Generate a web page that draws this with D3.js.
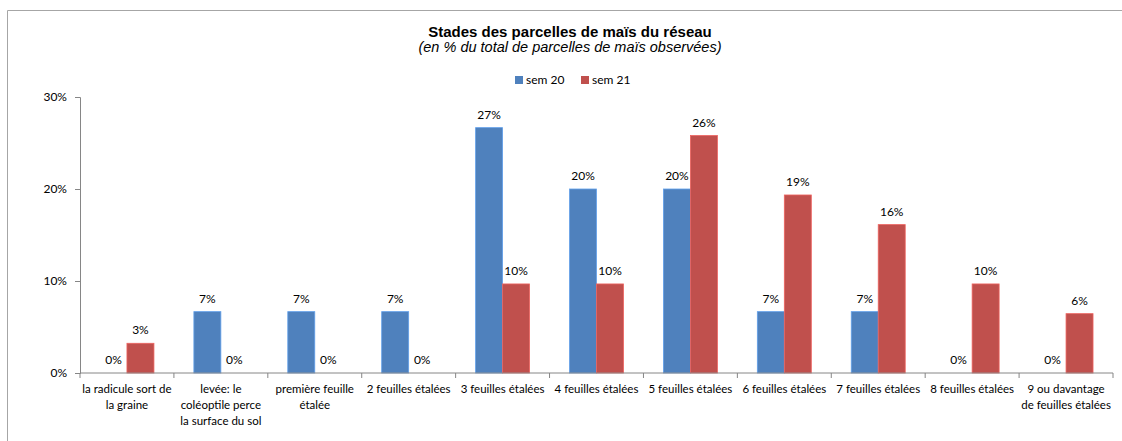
<!DOCTYPE html>
<html>
<head>
<meta charset="utf-8">
<script src="https://cdn.jsdelivr.net/npm/d3@7"></script>
<style>
  body { margin: 0; background: #fff; }
  svg text { font-family: Lato, "Open Sans", sans-serif; fill: #000; }
</style>
</head>
<body>
<div id="chart"></div>
<script>
// Données
const categories = [
  "la radicule sort de|la graine",
  "levée: le|coléoptile perce|la surface du sol",
  "première feuille|étalée",
  "2 feuilles étalées",
  "3 feuilles étalées",
  "4 feuilles étalées",
  "5 feuilles étalées",
  "6 feuilles étalées",
  "7 feuilles étalées",
  "8 feuilles étalées",
  "9 ou davantage|de feuilles étalées"
];
const seriesNames = ["sem 20", "sem 21"];
const sem20 = [0, 6.67, 6.67, 6.67, 26.67, 20, 20, 6.67, 6.67, 0, 0];
const sem21 = [3.23, 0, 0, 0, 9.68, 9.68, 25.81, 19.35, 16.13, 9.68, 6.45];
const yTicks = [0, 10, 20, 30];
const colors = ["#4F81BD", "#C0504D"];

const W = 1122, H = 441;
const margin = { top: 97, right: 9, bottom: 68, left: 80 };
const width = 1113 - margin.left, height = 373 - margin.top;

const svg = d3.select("#chart").append("svg")
  .attr("width", W).attr("height", H);

// cadre (haut et gauche visibles)
svg.append("path")
  .attr("d", "M7.5,441 V10.5 H1122")
  .attr("fill", "none").attr("stroke", "#a6a6a6");

svg.append("text")
  .attr("x", 570).attr("y", 37)
  .attr("text-anchor", "middle")
  .style("font-family", "'Liberation Sans', Arial, sans-serif")
  .style("font-weight", "bold").style("font-size", "15px")
  .text("Stades des parcelles de maïs du réseau");

svg.append("text")
  .attr("x", 570).attr("y", 52)
  .attr("text-anchor", "middle")
  .style("font-family", "'Liberation Sans', Arial, sans-serif")
  .style("font-style", "italic").style("font-size", "14.5px")
  .text("(en % du total de parcelles de maïs observées)");

// légende
const legend = svg.append("g").attr("transform", "translate(515,75)");
seriesNames.forEach((s, i) => {
  const lg = legend.append("g").attr("transform", `translate(${i * 66},0)`);
  lg.append("rect").attr("width", 8).attr("height", 8).attr("y", 1).attr("fill", colors[i]);
  lg.append("text").attr("x", 11).attr("y", 8.5).style("font-size", "12px").text(s);
});

const g = svg.append("g").attr("transform", `translate(${margin.left},${margin.top})`);

const x0 = d3.scaleBand().domain(d3.range(categories.length)).range([0, width]).padding(0);
const x1 = d3.scaleBand().domain([0, 1]).range([0, x0.bandwidth()]).paddingOuter(0.74).paddingInner(0);
const y = d3.scaleLinear().domain([0, 30]).range([height, 0]);

const data = categories.map((c, i) => [sem20[i], sem21[i]]);

const groups = g.selectAll(".grp").data(data).enter().append("g")
  .attr("transform", (d, i) => `translate(${x0(i)},0)`);

groups.selectAll("rect").data(d => d).enter().append("rect")
  .attr("x", (d, j) => x1(j))
  .attr("y", d => y(d))
  .attr("width", x1.bandwidth())
  .attr("height", d => height - y(d))
  .attr("fill", (d, j) => colors[j])
  .attr("stroke", (d, j) => d3.color(colors[j]).brighter(0.6))
  .attr("stroke-width", d => d > 0 ? 0.8 : 0);

groups.selectAll(".lbl").data(d => d).enter().append("text")
  .attr("x", (d, j) => x1(j) + x1.bandwidth() / 2)
  .attr("y", d => y(d) - 9)
  .attr("text-anchor", "middle")
  .style("font-size", "12px")
  .text(d => Math.round(d) + "%");

// axe Y
const yAxis = g.append("g").call(d3.axisLeft(y).tickValues(yTicks).tickSize(5).tickFormat(d => d + "%"));
yAxis.select(".domain").attr("stroke", "#868686");
yAxis.selectAll(".tick line").attr("stroke", "#868686");
yAxis.selectAll(".tick text").style("font-size", "12px").style("font-family", "Lato, sans-serif").attr("x", -13);

// axe X
const xAxis = g.append("g").attr("transform", `translate(0,${height})`);
xAxis.append("line").attr("x1", 0).attr("x2", width).attr("stroke", "#868686");
xAxis.selectAll(".tk").data(d3.range(categories.length + 1)).enter().append("line")
  .attr("x1", i => i < categories.length ? x0(i) : width)
  .attr("x2", i => i < categories.length ? x0(i) : width)
  .attr("y1", 0).attr("y2", 5).attr("stroke", "#868686");

xAxis.selectAll(".cat").data(categories).enter().append("text")
  .attr("text-anchor", "middle")
  .attr("transform", (d, i) => `translate(${x0(i) + x0.bandwidth() / 2},0)`)
  .style("font-size", "11.5px")
  .each(function(d) {
    d.split("|").forEach((line, k) => {
      d3.select(this).append("tspan").attr("x", 0).attr("y", 20 + k * 16).text(line);
    });
  });
</script>
</body>
</html>
